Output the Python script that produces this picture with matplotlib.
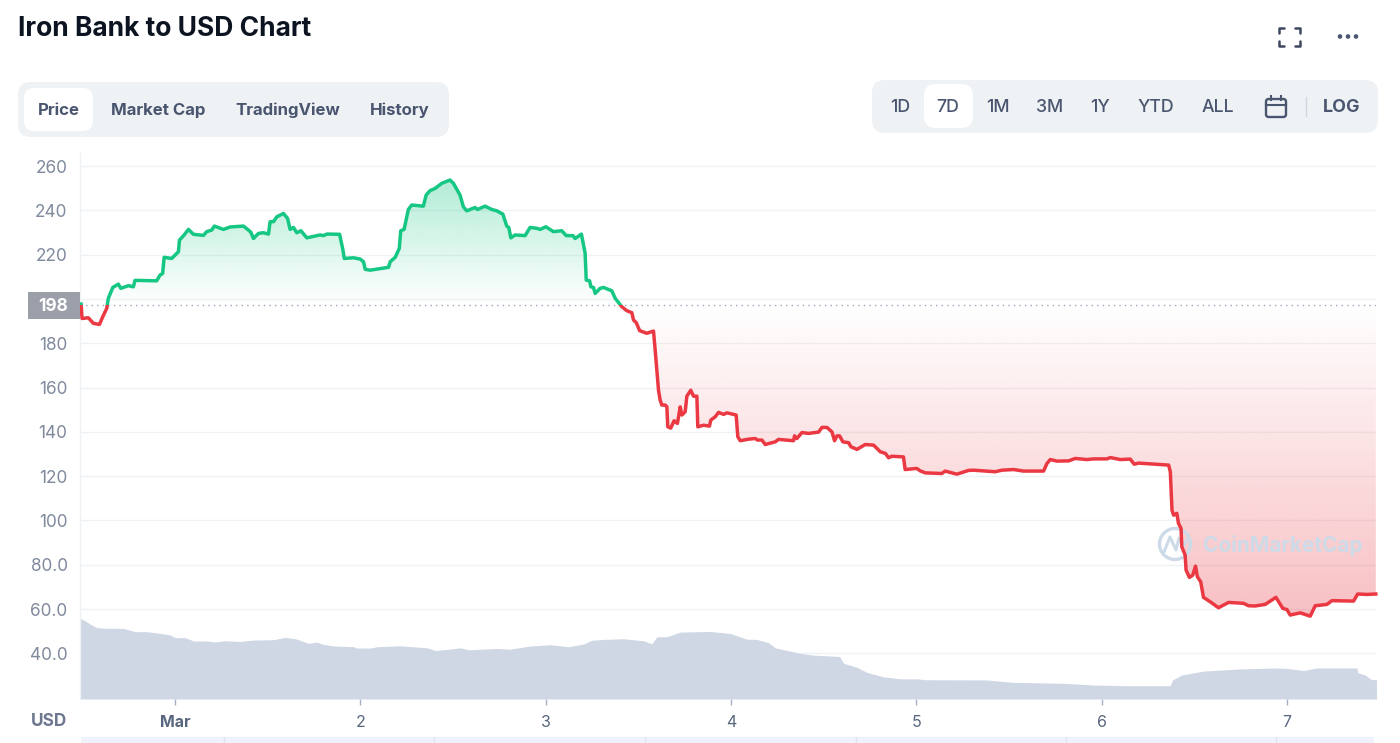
import numpy as np
import matplotlib
matplotlib.use("Agg")
import matplotlib.pyplot as plt
from matplotlib.patches import FancyBboxPatch, Rectangle, Circle

# ---------- data ----------
price_days = [
 .493,.498,.532,.559,.592,.610,.631,.640,.664,.694,.707,.748,.775,.784,.901,.919,.933,.941,.982,
 1.018,1.024,1.049,1.072,1.099,1.153,1.171,1.198,1.212,1.261,1.297,1.369,1.396,1.409,1.423,1.450,1.477,1.504,
 1.513,1.531,1.549,1.585,1.607,1.621,1.639,1.657,1.679,1.711,1.765,1.783,1.801,1.819,1.888,1.906,1.913,1.963,1.999,
 2.017,2.026,2.053,2.152,2.161,2.188,2.210,2.218,2.236,2.259,2.277,2.340,2.355,2.376,2.403,2.439,2.484,2.502,2.538,
 2.556,2.574,2.619,2.632,2.673,2.709,2.736,2.769,2.790,2.801,2.812,2.835,2.889,2.916,2.952,2.970,3.001,3.042,3.087,
 3.111,3.147,3.159,3.193,3.213,3.219,3.237,3.244,3.258,3.267,3.294,3.312,3.357,3.375,3.411,3.438,3.465,3.474,3.489,
 3.507,3.546,3.582,3.591,3.609,3.618,3.627,3.645,3.654,3.659,3.675,3.693,3.711,3.726,3.735,3.753,3.762,3.783,3.798,
 3.816,3.821,3.852,3.884,3.891,3.915,3.933,3.960,3.978,4.028,4.037,4.050,4.095,4.131,4.143,4.167,4.185,4.239,4.257,
 4.338,4.343,4.356,4.383,4.419,4.473,4.491,4.518,4.545,4.559,4.572,4.586,4.604,4.635,4.647,4.680,4.725,4.770,4.806,
 4.833,4.851,4.868,4.931,4.940,5.003,5.021,5.048,5.138,5.156,5.219,5.282,5.309,5.426,5.462,5.525,5.579,5.687,5.705,
 5.723,5.759,5.822,5.858,5.921,5.957,6.029,6.047,6.101,6.155,6.176,6.200,6.362,6.371,6.380,6.389,6.406,6.415,6.429,
 6.433,6.451,6.456,6.474,6.492,6.507,6.517,6.535,6.550,6.586,6.631,6.685,6.766,6.793,6.829,6.883,6.941,6.978,7.000,
 7.018,7.072,7.126,7.153,7.216,7.243,7.360,7.382,7.432,7.480]
price_usd = [
 197.7,191.2,191.5,189.0,188.5,192.0,195.7,200.3,205.2,206.7,204.8,206.0,205.5,208.4,208.2,210.8,211.5,218.8,218.3,
 221.3,226.6,228.9,231.4,229.2,228.7,230.4,231.1,232.9,231.4,232.5,232.9,231.1,230.1,227.3,229.6,229.9,229.3,
 234.9,234.9,237.1,238.6,236.4,231.4,232.3,229.9,230.8,227.6,228.6,228.9,228.6,229.3,229.2,222.1,218.3,218.6,218.0,
 216.8,213.4,213.0,214.3,216.8,218.8,222.8,230.8,231.4,240.4,242.4,241.9,246.9,248.9,249.9,252.2,253.7,252.2,246.9,
 241.6,239.8,241.3,240.4,241.9,240.4,239.8,238.3,232.9,232.3,227.6,228.9,228.6,232.3,231.9,231.4,232.6,230.4,230.8,
 228.6,228.6,227.3,229.3,220.6,208.5,208.2,205.5,205.2,202.5,204.8,205.2,203.7,200.3,196.5,194.7,193.8,190.5,189.3,
 185.7,184.5,185.5,176.9,158.8,154.3,152.1,152.1,151.3,142.3,141.7,145.0,143.8,151.3,147.6,149.1,156.1,158.8,156.1,
 156.1,142.3,143.0,142.6,145.3,146.8,148.8,147.9,148.6,147.6,137.8,136.0,136.7,137.0,136.3,136.3,134.3,135.5,136.6,
 136.0,138.2,137.0,139.7,139.3,139.9,142.0,142.0,140.0,136.0,138.2,138.2,135.5,135.1,133.3,132.1,134.3,134.0,131.0,
 130.3,128.3,129.0,128.7,123.0,123.5,122.4,121.5,121.2,122.3,120.9,122.6,122.7,122.0,122.7,123.0,122.3,122.3,125.7,
 127.5,126.8,126.9,128.0,127.5,127.8,127.8,128.4,127.5,127.7,125.4,125.9,125.0,122.0,104.7,102.4,103.2,98.7,96.4,
 88.1,84.4,77.6,74.3,75.3,79.4,74.6,72.3,65.3,63.3,60.6,63.0,62.6,61.5,61.4,62.1,65.3,60.3,59.8,
 57.3,58.3,56.8,61.5,62.1,63.8,63.6,66.8,66.6,66.8]
baseline_price = 197.5

volume_days = [
 .487,.515,.542,.578,.632,.722,.785,.848,.920,.974,1.001,1.055,1.100,1.172,1.217,1.262,1.352,1.424,1.532,1.595,1.649,
 1.721,1.766,1.793,1.856,1.964,1.982,2.054,2.090,2.216,2.360,2.405,2.468,2.540,2.585,2.736,2.808,2.916,3.024,3.123,
 3.204,3.249,3.312,3.420,3.528,3.573,3.600,3.654,3.726,3.888,3.996,4.086,4.140,4.203,4.239,4.374,4.446,4.586,4.608,
 4.680,4.734,4.824,4.914,5.004,5.049,5.380,5.524,5.794,5.956,6.136,6.370,6.383,6.433,6.550,6.730,6.928,7.000,7.090,
 7.162,7.378,7.382,7.423,7.454,7.486]
volume_level = [
 55.8,54.7,53.2,51.6,51.3,51.3,49.8,49.8,49.0,48.3,47.1,47.1,45.6,45.6,45.1,45.7,45.4,46.0,46.2,47.2,46.6,
 44.5,45.1,44.2,43.3,43.0,42.4,42.4,43.0,43.4,42.5,41.3,41.8,42.5,41.6,42.2,41.9,43.3,43.9,43.0,
 44.2,45.9,46.3,46.6,45.7,44.3,47.5,47.5,49.6,49.9,49.0,46.4,46.3,44.8,42.5,40.0,39.2,38.6,35.5,
 33.7,31.4,29.4,28.5,28.5,28.1,28.0,26.9,26.5,25.7,25.4,25.4,28.0,30.2,32.0,32.9,33.4,33.2,32.3,
 33.4,33.4,31.3,30.2,28.3,28.0]

y_ticks = [260,240,220,200,180,160,140,120,100,80,60,40]
y_labels = ["260","240","220","","180","160","140","120","100","80.0","60.0","40.0"]
x_ticks = [1,2,3,4,5,6,7]
x_labels = ["Mar","2","3","4","5","6","7"]
tabs = ["Price","Market Cap","TradingView","History"]
ranges = ["1D","7D","1M","3M","1Y","YTD","ALL"]

# ---------- style ----------
GREEN, RED = "#16c784", "#ea3943"
GRID = "#eff2f5"
TICK = "#808a9d"
DARK = "#4a5670"
PILL = "#eff2f5"
FONT = ["Inter", "DejaVu Sans"]
plt.rcParams["font.family"] = FONT

W, H = 1400, 743
fig = plt.figure(figsize=(14, 7.43), dpi=100, facecolor="white")
ax = fig.add_axes([80/W, 1-699/H, (1376-80)/W, (699-153)/H])
ax.set_xlim(0.487, 7.481)
ax.set_ylim(19.4, 265.9)
for s in ["top", "right", "bottom"]:
    ax.spines[s].set_visible(False)
ax.spines["left"].set_color(GRID)
ax.spines["left"].set_linewidth(1)

ax.set_yticks(y_ticks, y_labels)
ax.set_xticks(x_ticks, x_labels)
ax.tick_params(axis="y", length=0, pad=9, labelsize=12.4, labelcolor=TICK)
ax.tick_params(axis="x", length=4, width=1, color="#a6b0c3", pad=7.2, labelsize=11.5, labelcolor="#58667e")
ax.get_xticklabels()[0].set_fontweight("bold")
ax.grid(axis="y", color=GRID, linewidth=1)
ax.set_axisbelow(True)

t = np.array(price_days)
p = np.array(price_usd)

# gradient fills
def gradient(color, y0, y1, a0, a1, poly):
    rgb = matplotlib.colors.to_rgb(color)
    n = 256
    arr = np.zeros((n, 1, 4))
    arr[..., 0], arr[..., 1], arr[..., 2] = rgb
    arr[:, 0, 3] = np.linspace(a0, a1, n)
    im = ax.imshow(arr, extent=[t[0], t[-1], y0, y1], origin="lower", aspect="auto",
                   zorder=1.5, interpolation="bilinear")
    poly.set_visible(False)
    im.set_clip_path(poly.get_paths()[0], transform=ax.transData)

up = ax.fill_between(t, baseline_price, np.maximum(p, baseline_price))
gradient(GREEN, baseline_price, p.max(), 0.0, 0.33, up)
dn = ax.fill_between(t, baseline_price, np.minimum(p, baseline_price))
gradient(RED, p.min(), baseline_price, 0.32, 0.0, dn)
ax.set_xlim(0.487, 7.481)
ax.set_ylim(19.4, 265.9)

# volume
ax.fill_between(volume_days, 19.4, volume_level, color="#cfd6e4", linewidth=0, zorder=2)

# baseline
ax.axhline(baseline_price, color="#a1a7bb", linewidth=1, linestyle=(0, (1, 3)), zorder=2)

# ---------- page chrome in pixel space ----------
ui = fig.add_axes([0, 0, 1, 1], facecolor="none")
ui.set_xlim(0, W); ui.set_ylim(H, 0); ui.axis("off")
ax.set_zorder(1); ui.set_zorder(2)

# watermark sits under the price line
WM = "#cddae8"
ax.add_patch(Circle((1175, 544), 15.5, fc="none", ec=WM, lw=2.4, transform=ui.transData, clip_on=False, zorder=2.5))
ax.plot([1164, 1170, 1176, 1179, 1183, 1187], [552, 537, 550, 538, 546, 540], color=WM, lw=2.2,
        solid_joinstyle="round", solid_capstyle="round", transform=ui.transData, clip_on=False, zorder=2.5,
        scalex=False, scaley=False)
ax.text(1203, 546, "CoinMarketCap", fontsize=15, fontweight="bold", color=WM, ha="left", va="center",
        transform=ui.transData, zorder=2.5)

# price line split at the baseline
for col, rect in ((GREEN, (0, baseline_price, 10, 300)), (RED, (0, 0, 10, baseline_price))):
    ln, = ax.plot(t, p, color=col, linewidth=2.5, solid_joinstyle="round", zorder=3)
    ln.set_clip_path(Rectangle(rect[:2], rect[2], rect[3], transform=ax.transData))

def pill(x0, y0, x1, y1, r, color):
    ui.add_patch(FancyBboxPatch((x0+r, y0+r), x1-x0-2*r, y1-y0-2*r,
                                boxstyle=f"round,pad={r},rounding_size={r}",
                                fc=color, ec="none"))

ui.text(18, 29.5, "Iron Bank to USD Chart", fontsize=19, fontweight="bold", color="#0d1421",
        ha="left", va="center")

pill(18, 82, 449, 137, 13, PILL)
pill(24, 88, 93, 131, 10, "white")
for lab, cx in zip(tabs, [58.5, 158, 288, 400]):
    ui.text(cx, 110.5, lab, fontsize=12.1, fontweight="bold", color=DARK, ha="center", va="center")

pill(872, 80, 1378, 133, 13, PILL)
pill(924, 84, 973, 128, 12, "white")
for lab, cx in zip(ranges, [900, 948, 998, 1050, 1100, 1156, 1218]):
    ui.text(cx, 108, lab, fontsize=12.8, fontweight="medium", color=DARK, ha="center", va="center")
ui.text(1342, 107.5, "LOG", fontsize=12.9, fontweight="bold", color=DARK, ha="center", va="center")
ui.plot([1306, 1306], [97, 116], color="#cfd6e4", lw=1)

# calendar icon
ui.add_patch(FancyBboxPatch((1268, 101), 16, 14, boxstyle="round,pad=2,rounding_size=2.5",
                            fc="none", ec=DARK, lw=1.7))
ui.plot([1266, 1286], [105, 105], color=DARK, lw=1.5)
for xx in (1271, 1281):
    ui.plot([xx, xx], [96, 100], color=DARK, lw=1.5)

# fullscreen icon
fs = "#3d4860"
for (x0, x1, y0, y1) in ((1279, 1284, 28, 33), (1300, 1295, 28, 33), (1279, 1284, 46, 41), (1300, 1295, 46, 41)):
    ui.plot([x1, x0, x0], [y0, y0, y1], color=fs, lw=1.8, solid_capstyle="round", solid_joinstyle="round")
# more icon
for xx in (1340, 1348, 1356):
    ui.add_patch(Circle((xx, 36.5), 2.3, fc=DARK, ec="none"))

# current-price badge
ui.add_patch(Rectangle((28, 292), 52, 27, fc="#9a9faa", ec="none"))
ui.text(53, 306.5, "198", fontsize=12.4, fontweight="bold", color="white", ha="center", va="center")

ui.text(67.5, 721.5, "USD", fontsize=12.4, fontweight="bold", color="#6d7890", ha="right", va="center")

# strip at the bottom edge
ui.add_patch(Rectangle((81, 737), 1293, 6, fc="#eff2fb", ec="none"))
for xx in (224, 434, 645, 856, 1066, 1276):
    ui.plot([xx, xx], [737, 743], color="#dfe3ee", lw=1)

fig.savefig("out.png", dpi=100, facecolor="white")
